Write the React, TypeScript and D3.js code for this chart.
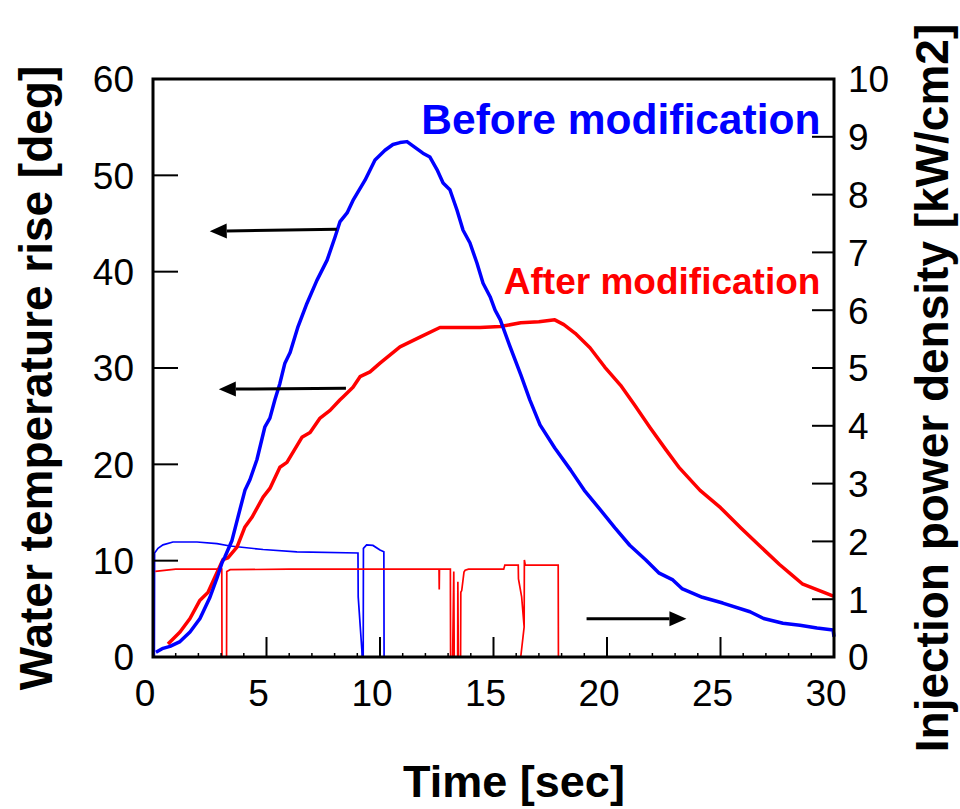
import { useEffect, useRef } from 'react';
import * as d3 from 'd3';

// temperature rise [deg] vs time [sec] (left axis)
const beforeTemp: [number, number][] = [
  [0.13, 0.5], [0.44, 0.9], [0.75, 1.1], [1.19, 1.6], [1.63, 2.6], [2.07, 4.0],
  [2.51, 6.2], [2.82, 8.2], [3.04, 9.8], [3.17, 10.4], [3.48, 12.1], [3.74, 14.5],
  [4.05, 17.3], [4.27, 18.4], [4.58, 20.5], [4.93, 23.9], [5.15, 24.8], [5.37, 26.7],
  [5.59, 28.4], [5.81, 30.5], [6.04, 31.6], [6.39, 34.3], [6.78, 36.7], [7.22, 39.1],
  [7.67, 41.2], [8.02, 43.6], [8.24, 45.2], [8.55, 46.1], [8.81, 47.4], [9.34, 49.5],
  [9.78, 51.6], [10.22, 52.6], [10.57, 53.2], [10.88, 53.4], [11.19, 53.5], [11.54, 52.9],
  [11.89, 52.3], [12.2, 51.9], [12.51, 50.6], [12.78, 49.2], [13.08, 48.5], [13.39, 46.4],
  [13.66, 44.3], [13.96, 43.0], [14.27, 40.9], [14.54, 38.8], [14.85, 37.4], [15.07, 36.0],
  [15.3, 35.0], [15.7, 32.4], [16.2, 29.3], [16.6, 26.7], [17.05, 24.1], [17.7, 21.7],
  [18.4, 19.4], [19.0, 17.3], [19.7, 15.3], [20.35, 13.4], [21.0, 11.6], [21.7, 10.1],
  [22.3, 8.7], [22.9, 8.0], [23.3, 7.1], [24.2, 6.2], [25.1, 5.6], [26.3, 4.7],
  [26.9, 4.0], [27.75, 3.5], [28.5, 3.3], [29.25, 3.0], [29.96, 2.8], [30.0, 2.1]
];

const afterTemp: [number, number][] = [
  [0.66, 1.35], [1.19, 2.6], [1.63, 4.0], [2.07, 5.9], [2.42, 6.7], [2.73, 8.3],
  [3.08, 10.1], [3.3, 10.3], [3.7, 11.4], [4.05, 13.5], [4.36, 14.5], [4.85, 16.6],
  [5.15, 17.5], [5.59, 19.7], [5.9, 20.2], [6.56, 22.8], [6.92, 23.3], [7.36, 24.8],
  [7.8, 25.6], [8.24, 26.7], [8.37, 27.0], [8.81, 28.0], [9.12, 29.1], [9.56, 29.6],
  [10.0, 30.5], [10.88, 32.2], [11.76, 33.2], [12.64, 34.2], [13.5, 34.2], [14.4, 34.2],
  [15.3, 34.3], [16.2, 34.7], [17.0, 34.8], [17.7, 35.0], [18.1, 34.5], [18.6, 33.6],
  [19.25, 32.1], [19.9, 30.1], [20.6, 28.2], [21.2, 26.2], [21.9, 23.8], [22.6, 21.5],
  [23.2, 19.6], [24.1, 17.3], [25.0, 15.5], [25.9, 13.4], [26.7, 11.6], [27.6, 9.6],
  [28.1, 8.6], [28.6, 7.6], [29.5, 6.75], [30.0, 6.3]
];

// injection power density [kW/cm2] vs time [sec] (right axis)
const beforePower: [number, number][] = [
  [0.06, 0], [0.07, 1.8], [0.22, 1.88], [0.44, 1.94], [0.88, 1.99], [1.94, 1.99],
  [2.82, 1.96], [3.39, 1.92], [4.85, 1.86], [6.34, 1.82], [9.03, 1.8], [9.04, 1.04],
  [9.21, 0.07], [9.22, 0], [9.26, 0], [9.27, 1.88], [9.41, 1.94], [9.69, 1.93],
  [10.0, 1.85], [10.17, 1.82], [10.18, 0], [10.3, 0]
];

const afterPower: [number, number][] = [
  [0.1, 1.48], [0.5, 1.5], [1.0, 1.52], [3.03, 1.52], [3.04, 0], [3.24, 0],
  [3.25, 1.48], [3.4, 1.51], [6.0, 1.52], [12.6, 1.52], [12.61, 1.17], [12.62, 1.52],
  [13.1, 1.52], [13.11, 0], [13.2, 0], [13.25, 1.48], [13.27, 0], [13.42, 0],
  [13.43, 1.3], [13.45, 0], [13.55, 0], [13.56, 1.12], [13.6, 1.15], [13.7, 1.47],
  [13.75, 1.5], [13.9, 1.52], [15.45, 1.52], [15.5, 1.59], [16.09, 1.59], [16.1, 1.35],
  [16.24, 1.04], [16.35, 0.52], [16.2, 0], [16.35, 0.52], [16.36, 1.68], [16.4, 1.59],
  [17.85, 1.59], [17.86, 0], [17.95, 0]
];

const grayPower: [number, number][][] = [
  [[0.05, 0], [0.05, 0.68]],
  [[9.2, 0], [9.2, 0.27]]
];

const xTicks = [0, 5, 10, 15, 20, 25, 30];
const leftTicks = [0, 10, 20, 30, 40, 50, 60];
const rightTicks = [0, 1, 2, 3, 4, 5, 6, 7, 8, 9, 10];

// arrows: [tailT, tailV, tipT, tipV, axis]
const arrows: [number, number, number, number, 'left' | 'right'][] = [
  [8.1, 44.4, 2.5, 44.2, 'left'],
  [8.5, 27.9, 2.9, 27.8, 'left'],
  [19.1, 0.66, 23.5, 0.66, 'right']
];

const FONT = '"Liberation Sans", Arial, Helvetica, sans-serif';

const App = () => {
  const svgRef = useRef<SVGSVGElement>(null);

  useEffect(() => {
    const svg = d3.select(svgRef.current);
    svg.selectAll('*').remove();

    const left = 153, right = 834, top = 79, bottom = 657;

    const x = d3.scaleLinear().domain([0, 30]).range([left, right]);
    const yL = d3.scaleLinear().domain([0, 60]).range([bottom, top]);
    const yR = d3.scaleLinear().domain([0, 10]).range([bottom, top]);

    const g = svg.append('g');

    // data lines
    const lineL = d3.line<[number, number]>().x(d => x(d[0])).y(d => yL(d[1]));
    const lineR = d3.line<[number, number]>().x(d => x(d[0])).y(d => yR(d[1]));

    grayPower.forEach(seg => {
      g.append('path').attr('d', lineR(seg)).attr('fill', 'none')
        .attr('stroke', '#999').attr('stroke-width', 1.5);
    });

    g.append('path').attr('d', lineR(beforePower)).attr('fill', 'none')
      .attr('stroke', '#0000ff').attr('stroke-width', 1.7);
    g.append('path').attr('d', lineR(afterPower)).attr('fill', 'none')
      .attr('stroke', '#ff0000').attr('stroke-width', 1.7);

    g.append('path').attr('d', lineL(afterTemp)).attr('fill', 'none')
      .attr('stroke', '#ff0000').attr('stroke-width', 3.5).attr('stroke-linejoin', 'round');
    g.append('path').attr('d', lineL(beforeTemp)).attr('fill', 'none')
      .attr('stroke', '#0000ff').attr('stroke-width', 3.5).attr('stroke-linejoin', 'round');

    // ticks
    const minor = d3.range(0, 31, 1).filter(v => v % 5 !== 0);
    g.selectAll('.xminor').data(minor).enter().append('line')
      .attr('x1', d => x(d)).attr('x2', d => x(d))
      .attr('y1', bottom).attr('y2', bottom - 4)
      .attr('stroke', '#000').attr('stroke-width', 1.5);
    g.selectAll('.xmajor').data(xTicks).enter().append('line')
      .attr('x1', d => x(d)).attr('x2', d => x(d))
      .attr('y1', bottom).attr('y2', bottom - 20)
      .attr('stroke', '#000').attr('stroke-width', 2);
    g.selectAll('.lt').data(leftTicks).enter().append('line')
      .attr('x1', left).attr('x2', left + 25)
      .attr('y1', d => yL(d)).attr('y2', d => yL(d))
      .attr('stroke', '#000').attr('stroke-width', 2);
    g.selectAll('.rt').data(rightTicks).enter().append('line')
      .attr('x1', right).attr('x2', right - 22)
      .attr('y1', d => yR(d)).attr('y2', d => yR(d))
      .attr('stroke', '#000').attr('stroke-width', 2);

    // frame
    g.append('rect')
      .attr('x', left).attr('y', top)
      .attr('width', right - left).attr('height', bottom - top)
      .attr('fill', 'none').attr('stroke', '#000').attr('stroke-width', 3);

    // tick labels
    g.selectAll('.xl').data(xTicks).enter().append('text')
      .attr('x', d => x(d) - 8).attr('y', 706)
      .attr('text-anchor', 'middle')
      .style('font-family', FONT).style('font-size', '37px')
      .text(d => d);
    g.selectAll('.yl').data(leftTicks).enter().append('text')
      .attr('x', 134).attr('y', d => yL(d)).attr('dy', '0.36em')
      .attr('text-anchor', 'end')
      .style('font-family', FONT).style('font-size', '37px')
      .text(d => d);
    g.selectAll('.yr').data(rightTicks).enter().append('text')
      .attr('x', 848).attr('y', d => yR(d)).attr('dy', '0.36em')
      .attr('text-anchor', 'start')
      .style('font-family', FONT).style('font-size', '37px')
      .text(d => d);

    // axis titles
    g.append('text')
      .attr('transform', 'translate(52,378) rotate(-90)')
      .attr('text-anchor', 'middle')
      .style('font-family', FONT).style('font-size', '46px').style('font-weight', 'bold')
      .text('Water temperature rise [deg]');
    g.append('text')
      .attr('transform', 'translate(948,388) rotate(-90)')
      .attr('text-anchor', 'middle')
      .style('font-family', FONT).style('font-size', '46px').style('font-weight', 'bold')
      .text('Injection power density [kW/cm2]');
    g.append('text')
      .attr('x', 514).attr('y', 797)
      .attr('text-anchor', 'middle')
      .style('font-family', FONT).style('font-size', '45px').style('font-weight', 'bold')
      .text('Time [sec]');

    // series labels
    g.append('text')
      .attr('x', x(29.4)).attr('y', yL(54.3))
      .attr('text-anchor', 'end').attr('fill', '#0000ff')
      .style('font-family', FONT).style('font-size', '42.5px').style('font-weight', 'bold')
      .text('Before modification');
    g.append('text')
      .attr('x', x(29.4)).attr('y', yL(37.7))
      .attr('text-anchor', 'end').attr('fill', '#ff0000')
      .style('font-family', FONT).style('font-size', '37px').style('font-weight', 'bold')
      .text('After modification');

    // arrows
    arrows.forEach(([t0, v0, t1, v1, axis]) => {
      const y = axis === 'left' ? yL : yR;
      const x0 = x(t0), y0 = y(v0), x1 = x(t1), y1 = y(v1);
      const ang = Math.atan2(y1 - y0, x1 - x0);
      const len = 17, half = 7.5;
      const bx = x1 - len * Math.cos(ang), by = y1 - len * Math.sin(ang);
      g.append('line')
        .attr('x1', x0).attr('y1', y0).attr('x2', bx).attr('y2', by)
        .attr('stroke', '#000').attr('stroke-width', 3);
      const pts: [number, number][] = [
        [x1, y1],
        [bx + half * Math.sin(ang), by - half * Math.cos(ang)],
        [bx - half * Math.sin(ang), by + half * Math.cos(ang)]
      ];
      g.append('polygon')
        .attr('points', pts.map(p => p.join(',')).join(' '))
        .attr('fill', '#000');
    });
  }, []);

  return (
    <svg
      ref={svgRef}
      width={960}
      height={809}
      style={{ position: 'absolute', left: 0, top: 0, background: '#fff' }}
    />
  );
};

export default App;
